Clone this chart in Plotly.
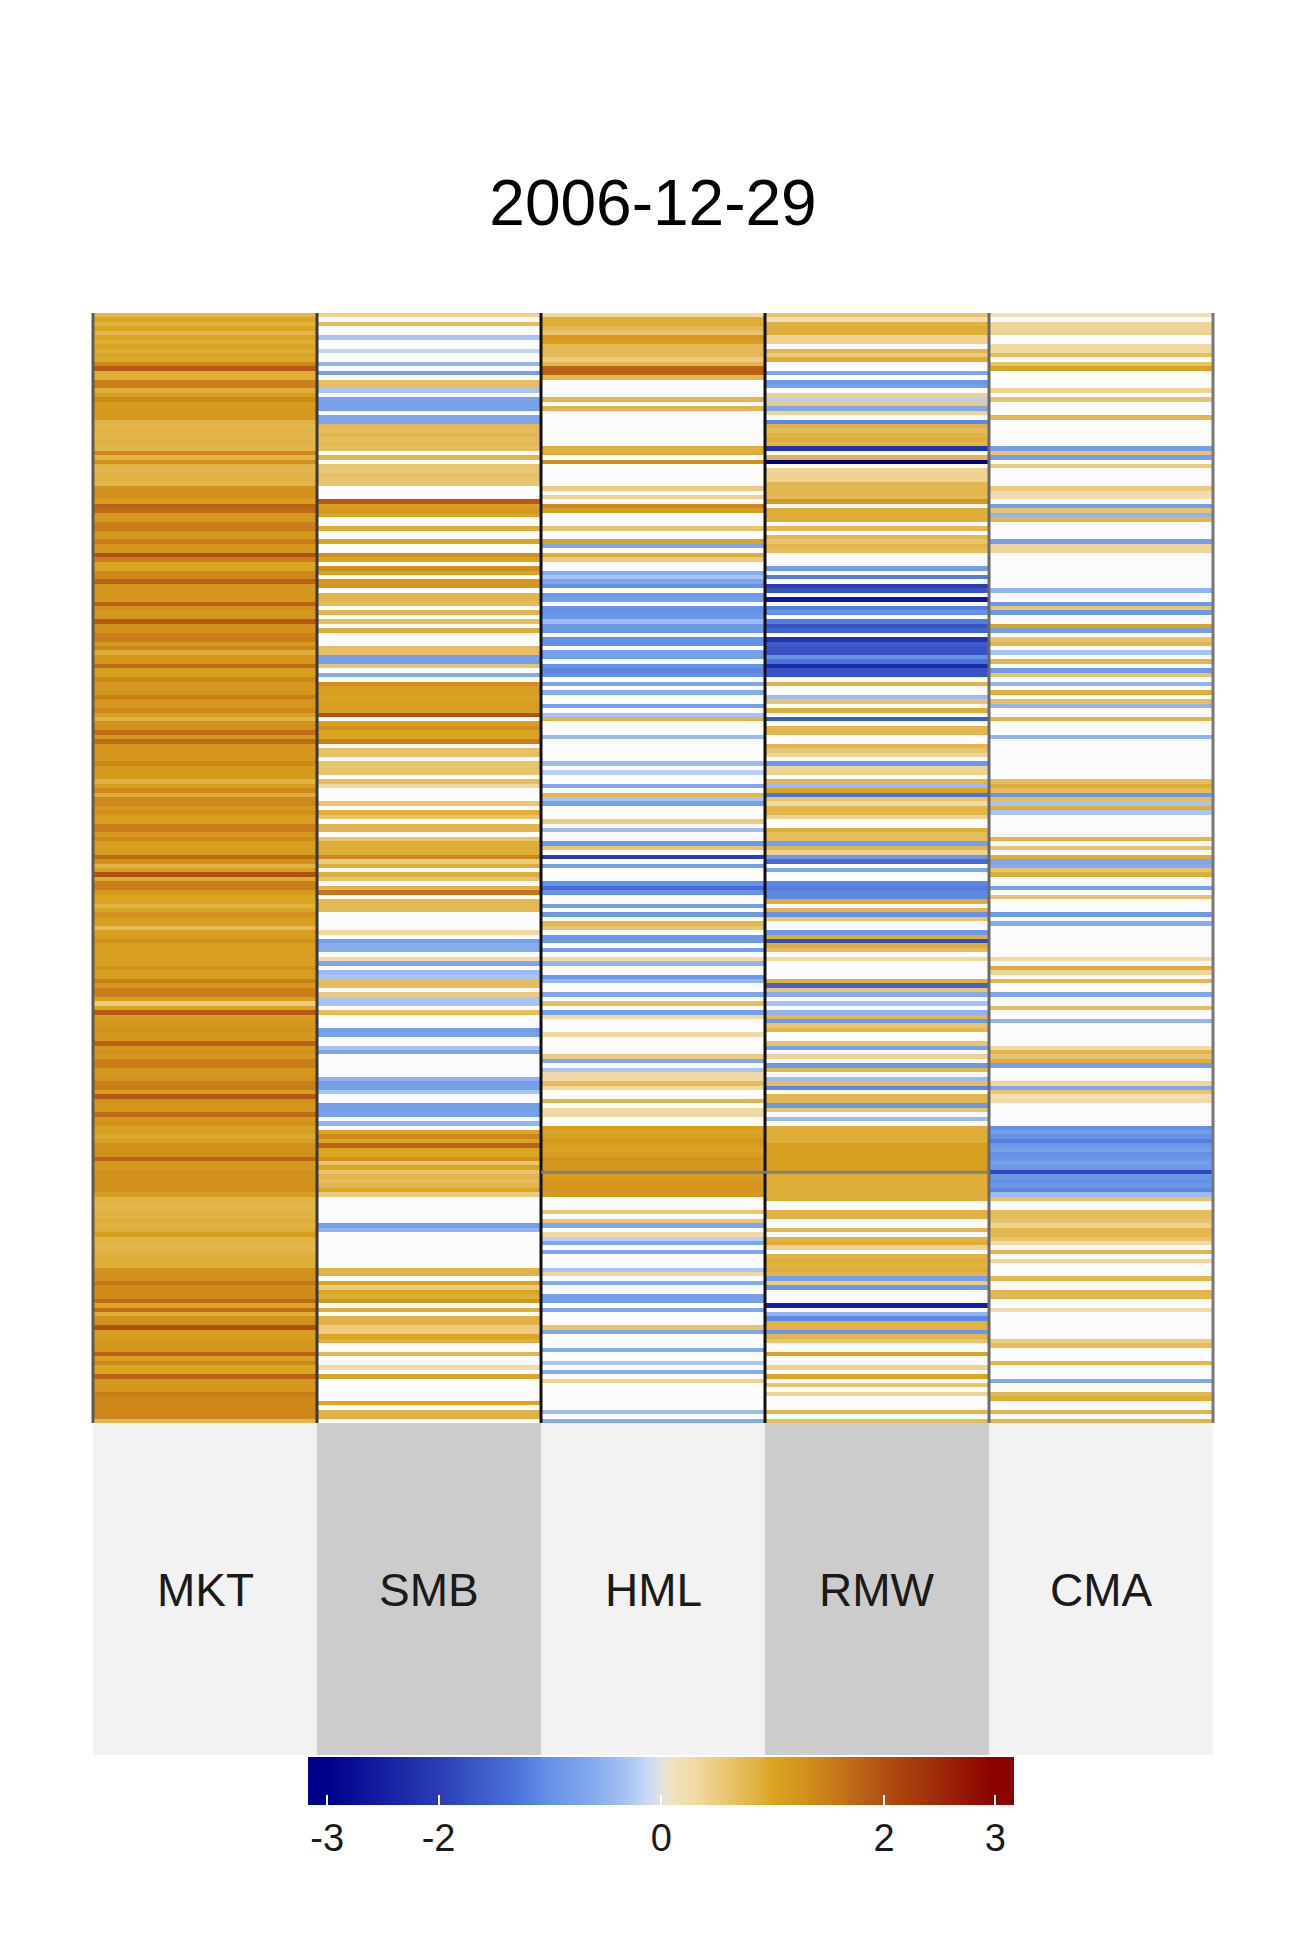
import plotly.graph_objects as go

title_text = "2006-12-29"
factors = ["MKT", "SMB", "HML", "RMW", "CMA"]
_ = None  # blank (near-zero) cell

MKT = [
    0.8, 1.0, 0.85, 1.0, 0.8, 1.0, 0.9, 1.0, 0.9, 1.0,
    0.95, 1.4, 1.9, 0.9, 0.9, 1.5, 1.5, 0.9, 1.1, 1.4,
    1.1, 1.15, 1.15, 1.15, 0.85, 0.8, 0.85, 0.8, 0.85, 0.85,
    0.8, 1.4, 0.85, 1.3, 0.85, 0.8, 0.85, 0.85, 0.8, 1.3,
    1.3, 1.3, 1.1, 1.8, 1.7, 1.2, 1.2, 1.5, 1.5, 1.2,
    1.2, 1.5, 1.2, 1.2, 2.0, 1.5, 1.0, 1.0, 1.4, 1.4,
    1.8, 1.2, 1.2, 1.2, 1.2, 1.8, 1.3, 1.2, 1.2, 1.9,
    1.3, 1.3, 1.5, 1.5, 1.2, 1.4, 0.9, 1.2, 1.2, 1.7,
    1.1, 1.1, 1.4, 1.2, 1.2, 1.2, 1.5, 1.2, 1.2, 1.4,
    1.1, 0.85, 1.3, 1.3, 1.7, 1.2, 1.7, 1.2, 1.2, 1.2,
    1.2, 1.4, 1.15, 1.15, 1.15, 0.85, 1.1, 1.4, 0.9, 1.4,
    1.4, 1.2, 1.3, 1.1, 1.1, 1.5, 1.5, 1.2, 1.4, 1.1,
    1.1, 1.1, 1.7, 1.3, 0.85, 1.1, 2.0, 0.95, 1.5, 1.5,
    1.2, 1.0, 1.0, 0.85, 1.0, 1.3, 1.1, 1.1, 0.75, 1.1,
    1.1, 1.3, 1.1, 1.1, 1.1, 1.1, 1.1, 1.3, 1.1, 1.1,
    1.5, 1.2, 1.5, 1.5, 1.1, 0.5, 1.0, 1.9, 1.1, 1.2,
    1.2, 1.3, 1.2, 1.2, 1.8, 1.2, 1.3, 1.2, 1.5, 1.5,
    1.2, 1.2, 1.3, 1.5, 1.5, 1.1, 1.9, 1.3, 1.2, 1.2,
    1.7, 1.2, 1.3, 1.0, 1.1, 0.95, 1.1, 1.3, 1.3, 1.3,
    1.8, 1.2, 1.2, 1.3, 1.3, 1.3, 1.3, 1.3, 1.1, 0.85,
    0.85, 0.8, 0.85, 0.85, 0.9, 0.85, 0.9, 1.1, 0.85, 0.85,
    0.8, 0.85, 0.9, 0.9, 0.9, 1.3, 1.3, 1.3, 1.6, 1.35,
    1.35, 1.35, 1.7, 1.0, 1.7, 0.9, 1.3, 1.3, 2.0, 1.1,
    1.1, 1.2, 1.2, 1.2, 1.8, 1.1, 1.4, 1.0, 1.0, 1.8,
    1.2, 1.2, 1.2, 1.5, 1.4, 1.4, 1.4, 1.4, 1.4, 0.8,
]

SMB = [
    0.4, _, 0.7, _, _, -0.3, _, _, -0.15, _,
    _, -0.5, _, -0.8, _, 0.7, 0.7, -0.3, _, -0.75,
    -0.75, -0.75, _, -0.7, -0.7, 0.75, 0.7, 0.8, 0.7, 0.75,
    0.7, _, 0.8, _, 0.6, 0.55, 0.65, 0.6, 0.55, _,
    _, _, 1.9, 1.1, 1.2, 1.0, _, _, 0.9, _,
    _, 1.0, _, _, 1.3, 1.0, _, 1.3, 1.0, _,
    1.2, 1.2, _, 0.8, 0.8, 0.7, _, 0.8, _, 0.7,
    _, 0.9, _, _, _, 0.65, 0.65, -0.8, -0.8, 0.6,
    _, -0.6, _, 1.3, 1.1, 1.1, 1.0, 1.1, 1.1, 1.1,
    2.0, _, 1.1, 1.3, 1.0, 1.0, 1.5, _, 0.65, 0.65,
    _, 0.6, 0.6, 0.6, _, 0.7, 0.3, _, _, _,
    0.6, _, 0.9, 0.6, _, 0.8, 0.8, _, 0.6, 0.9,
    0.9, 0.9, 1.4, 0.5, 0.9, _, 0.9, 0.6, _, 0.8,
    1.6, _, 0.75, 0.75, 0.75, _, _, _, _, 0.3,
    _, -0.8, -0.6, -0.6, _, 0.3, -0.7, _, -0.4, -0.3,
    0.7, 0.7, _, 0.5, -0.3, -0.3, _, 0.7, _, _,
    _, -0.8, -0.8, _, _, -0.3, -0.7, _, _, _,
    _, _, -0.5, -0.8, -0.8, -0.3, _, _, -0.8, -0.8,
    -0.8, _, -0.5, _, 1.0, 1.4, 1.0, 1.8, 1.0, 1.0,
    1.3, 0.6, 1.0, 0.6, 0.8, 0.7, 0.8, 1.0, 0.5, _,
    _, _, _, _, _, -0.8, -0.5, _, _, _,
    _, _, _, _, _, 0.85, 0.85, _, 1.0, 0.5,
    1.0, 0.9, 1.2, _, 0.9, _, 0.85, 0.85, 0.5, 0.5,
    1.0, 0.9, _, _, 0.8, _, _, 0.3, _, 1.0,
    _, _, _, _, _, 1.0, _, 0.85, 0.85, _,
]

HML = [
    0.3, 0.9, 0.9, 0.75, 0.6, 1.2, 1.1, 0.75, 0.75, 0.75,
    0.5, 0.8, 1.8, 1.8, 0.8, _, _, _, _, 0.8,
    _, 0.8, _, _, _, _, _, _, _, _,
    0.9, 0.9, _, 1.3, _, _, _, _, _, 0.5,
    _, 0.4, _, 1.4, 1.1, _, _, _, 0.6, _,
    _, 1.0, -0.7, _, 0.9, 0.5, _, _, -0.6, -0.3,
    -0.7, -1.0, _, -0.9, -0.8, _, -1.0, -1.0, -0.9, -0.4,
    -0.9, -0.9, _, -1.0, -1.0, _, -0.8, -0.8, _, -1.0,
    -1.1, -1.0, _, -0.7, _, -0.6, _, _, -0.8, _,
    -0.3, 0.8, _, _, _, -0.4, _, _, _, _,
    _, -0.4, _, -0.2, _, _, -0.7, _, 0.8, -0.3,
    -0.8, _, _, _, 0.5, _, -0.4, _, _, -0.9,
    0.6, _, -2.0, _, -0.8, _, _, _, -1.0, -1.4,
    -1.0, _, _, -0.8, _, -0.9, _, 0.8, 0.6, _,
    -0.9, -0.9, _, -0.8, _, 0.3, -0.5, _, _, -0.9,
    -0.5, _, _, -0.7, _, 0.7, _, -0.8, 0.3, _,
    _, _, 0.3, _, _, _, _, 0.5, -0.7, _,
    -0.3, 0.3, 0.3, 0.7, 0.3, _, _, 0.8, _, 0.3,
    0.3, _, _, 1.1, 1.0, 1.1, 1.2, 1.1, 1.0, 1.1,
    1.3, 1.2, 1.2, 1.2, 1.1, 1.2, 1.2, 1.2, 1.2, _,
    _, _, 0.6, _, 0.6, -0.7, _, 0.3, -0.2, -0.7,
    _, -0.7, _, _, _, -0.3, 0.3, _, -0.6, _,
    _, -0.8, -0.8, _, -0.7, _, _, _, 0.6, -0.7,
    _, _, _, -0.6, _, _, -0.3, _, -0.6, _,
    0.4, _, _, _, _, _, _, -0.4, _, -0.6,
]

RMW = [
    0.6, 0.2, 0.85, 0.9, 0.9, 0.4, 0.4, _, 0.8, 0.5,
    0.9, _, _, -0.7, _, -0.9, -0.8, _, 0.4, -0.2,
    0.5, -0.7, 0.4, _, -1.1, 0.85, 0.7, 0.85, 0.9, 0.8,
    -2.2, _, 0.8, -3.0, _, 0.4, 0.4, 0.4, 0.8, 0.75,
    0.8, 0.75, 1.2, _, 0.9, 0.9, 0.9, _, 0.75, _,
    0.8, 0.6, 0.8, 0.7, _, _, _, -0.8, _, -1.2,
    _, -2.0, -1.7, _, -2.6, _, -1.2, -1.0, _, -1.2,
    -1.7, -1.5, _, -2.2, -1.6, -1.7, -1.7, -1.0, -1.3, -2.3,
    -1.7, -1.7, _, 0.85, _, _, -0.4, 0.6, _, 0.9,
    _, -1.6, _, 0.8, 0.8, _, _, 0.8, 0.6, 0.35,
    _, -0.9, 0.4, 0.4, _, 0.8, -0.4, 1.0, -1.3, 0.6,
    0.3, 0.8, 0.8, 0.4, _, _, 0.9, 0.7, 0.7, -0.8,
    0.8, 0.4, -0.9, -1.4, _, -0.7, _, _, -1.1, -1.2,
    -1.1, -1.1, 0.9, _, 0.8, -1.0, 0.6, _, _, -0.9,
    0.9, -1.8, 0.9, 0.7, _, 0.3, _, _, _, _,
    0.9, -1.5, 0.6, -0.6, _, -0.3, _, -0.5, 0.8, -0.9,
    0.6, 0.8, _, _, 0.6, -0.8, _, 0.4, _, -0.9,
    0.8, _, -0.4, 0.7, -1.1, _, 0.8, 0.8, -0.9, 0.6,
    _, -0.4, _, 0.9, 0.9, 0.9, 0.9, 1.1, 1.1, 1.1,
    1.1, 1.1, 1.1, 1.0, 0.9, 0.9, 0.9, 0.9, 0.9, 0.9,
    _, _, 0.85, 0.85, _, _, 0.8, _, 0.85, 0.9,
    0.4, _, 0.85, 0.9, 0.85, 0.9, 0.8, -0.8, 0.5, -0.9,
    _, _, _, -2.5, _, -0.5, -1.1, 0.85, 0.85, -0.9,
    0.8, 0.6, _, _, 1.0, _, _, 0.4, _, 1.0,
    _, 0.6, _, 0.35, _, _, _, 0.8, _, 0.7,
]

CMA = [
    0.2, _, 0.35, 0.35, 0.4, _, _, 0.3, 0.3, 0.7,
    _, 0.6, 1.0, _, _, _, _, 0.4, _, 0.6,
    _, _, _, 0.8, _, _, _, _, _, _,
    -0.8, 0.6, -0.8, _, 0.5, _, _, _, _, 0.5,
    0.25, 0.25, _, -0.8, 0.6, -0.5, 0.8, _, _, _,
    _, -0.8, 0.35, 0.35, _, _, _, _, _, _,
    _, _, -0.5, _, _, -0.9, 0.6, -0.9, _, _,
    1.0, -0.8, _, 0.6, 0.8, _, -0.3, _, 0.8, _,
    -0.9, 0.6, _, -0.5, _, 0.9, _, 0.7, -0.5, _,
    _, 0.8, _, _, _, -0.5, _, _, _, _,
    _, _, _, _, _, 0.7, 0.9, 0.7, -0.9, 0.7,
    -0.3, 0.9, -0.3, _, _, _, _, _, 0.8, _,
    0.6, _, 0.9, -0.7, -0.6, 0.6, 0.9, _, _, -0.8,
    _, 0.6, _, _, _, -0.9, _, -0.6, _, _,
    _, _, _, _, _, 0.3, _, 0.9, 0.35, _,
    0.8, _, _, -0.7, _, _, 0.7, _, _, -0.5,
    _, _, _, _, _, 0.25, 0.8, 0.6, 0.9, -0.8,
    _, _, _, 0.35, -0.7, 0.6, 0.2, 0.3, _, _,
    _, _, _, -1.0, -0.8, -1.0, -1.2, -0.9, -0.8, -1.0,
    -0.9, -0.8, -0.9, -1.9, -0.9, -1.0, -0.9, -1.1, -0.4, 0.6,
    _, _, 0.7, 0.7, 0.6, 0.4, 0.8, 0.8, 0.6, 0.3,
    _, 0.8, _, 0.35, _, _, _, 0.8, _, _,
    0.8, 0.8, _, _, 0.25, _, _, _, _, _,
    _, 0.5, 0.7, _, _, _, 0.8, _, _, _,
    -0.7, _, _, 0.8, 0.9, _, _, 0.8, _, 0.8,
]

colorbar_ticks = [-3, -2, 0, 2, 3]
z_limit = 3.17
missing_row = 193  # grey (NA) row across HML and RMW

columns = [MKT, SMB, HML, RMW, CMA]
n_rows = len(MKT)
for name, col in zip(factors, columns):
    if len(col) != n_rows:
        raise ValueError(f"{name} has {len(col)} rows, expected {n_rows}")

z = [[col[i] for col in columns] for i in range(n_rows)]

color_stops = [
    (-3.17, "#00008b"), (-3.0, "#00008b"), (-2.0, "#2a3db5"), (-1.3, "#4b73d9"),
    (-1.0, "#6592e6"), (-0.6, "#86abef"), (-0.3, "#a9c3f2"), (-0.1, "#ccdaf2"),
    (0.0, "#e2e2de"), (0.1, "#f1e2c0"), (0.3, "#f1d9a4"), (0.6, "#e8c46e"),
    (0.85, "#e1b244"), (1.0, "#daa520"), (1.3, "#d2901c"), (1.6, "#c47518"),
    (2.0, "#b05012"), (2.5, "#9e2a08"), (3.0, "#8b0000"), (3.17, "#8b0000"),
]
colorscale = [[min(1.0, max(0.0, (v + z_limit) / (2 * z_limit))), c] for v, c in color_stops]
colorscale[0][0] = 0.0
colorscale[-1][0] = 1.0

FONT = "Liberation Sans, Arial, sans-serif"

# the page adds an 8px body margin, so the figure is 8px smaller than the window
W, H = 1298, 1950
PL, PT, PR, PB = 84.5, 305, 93, 535

fig = go.Figure(go.Heatmap(
    z=z,
    x=list(range(len(factors))),
    y=list(range(n_rows)),
    zmin=-z_limit, zmax=z_limit,
    colorscale=colorscale,
    hoverongaps=False,
    colorbar=dict(
        orientation="h",
        x=0.5074, xanchor="center",
        y=-0.3009, yanchor="top",
        len=706, lenmode="pixels",
        thickness=48, thicknessmode="pixels",
        outlinewidth=0,
        tickvals=colorbar_ticks,
        ticktext=[str(t) for t in colorbar_ticks],
        ticks="inside", tickcolor="white", ticklen=10, tickwidth=2,
        tickfont=dict(family=FONT, size=38, color="#1a1a1a"),
        xpad=0, ypad=0,
    ),
))

shapes = []
n_col = len(factors)
box_colors = ["#f2f2f2", "#cccccc"]
for i in range(n_col):
    shapes.append(dict(type="rect", xref="paper", yref="paper",
                       x0=i / n_col, x1=(i + 1) / n_col, y0=-0.299, y1=0,
                       fillcolor=box_colors[i % 2], line=dict(width=0), layer="below"))

sep_colors = ["#5a5a5a", "#3a3a3a", "#111111", "#111111", "#6a6a6a", "#777777"]
for i in range(n_col + 1):
    shapes.append(dict(type="line", xref="paper", yref="paper",
                       x0=i / n_col, x1=i / n_col, y0=0, y1=1,
                       line=dict(color=sep_colors[i], width=3)))

shapes.append(dict(type="line", xref="paper", yref="y",
                   x0=2 / n_col, x1=4 / n_col, y0=missing_row, y1=missing_row,
                   line=dict(color="rgba(125,125,118,0.9)", width=3)))

annotations = []
for i, name in enumerate(factors):
    annotations.append(dict(text=name, xref="paper", yref="paper",
                            x=(i + 0.5) / n_col, y=-0.1505,
                            xanchor="center", yanchor="middle", showarrow=False,
                            font=dict(family=FONT, size=46, color="#1a1a1a")))

fig.update_layout(
    width=W, height=H,
    margin=dict(l=PL, r=PR, t=PT, b=PB),
    paper_bgcolor="white",
    plot_bgcolor="#fbfbfb",
    title=dict(text=title_text, x=0.5, xanchor="center", xref="paper",
               y=1 - 195 / H, yref="container", yanchor="middle",
               font=dict(family=FONT, size=64, color="black")),
    xaxis=dict(range=[-0.5, n_col - 0.5], visible=False, fixedrange=True),
    yaxis=dict(range=[n_rows - 0.5, -0.5], visible=False, fixedrange=True),
    shapes=shapes,
    annotations=annotations,
)

fig.write_html("out.html")
